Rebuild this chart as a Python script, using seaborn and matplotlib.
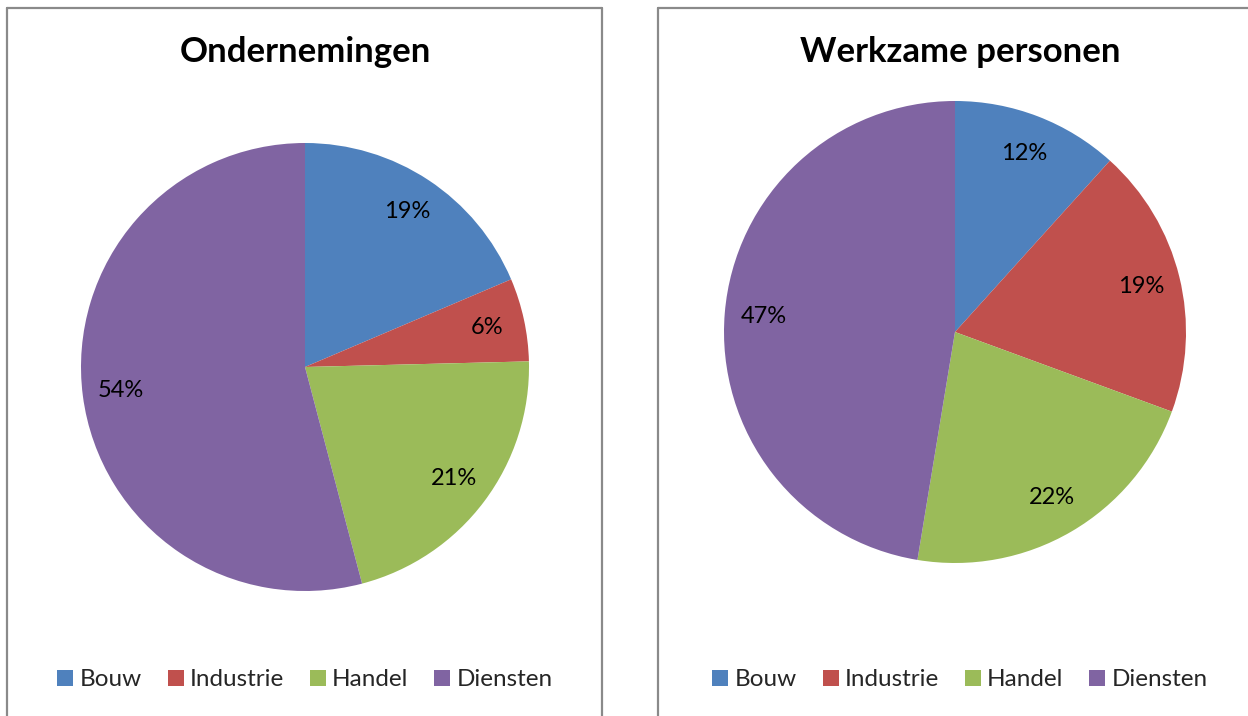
import matplotlib
matplotlib.use("Agg")
import matplotlib.pyplot as plt
import seaborn as sns
from matplotlib.patches import Patch
from matplotlib.lines import Line2D

categories = ["Bouw", "Industrie", "Handel", "Diensten"]
ondernemingen = [18.6, 6.0, 21.3, 54.1]
werkzame = [11.7, 18.9, 22.0, 47.4]
titles = ["Ondernemingen", "Werkzame personen"]
colors = ["#4F81BD", "#C0504D", "#9BBB59", "#8064A2"]

sns.set_theme(style="white")
plt.rcParams['font.family'] = ['Lato', 'DejaVu Sans']

W, H = 1248, 716
fig = plt.figure(figsize=(W / 100, H / 100), dpi=100)
fig.patch.set_facecolor("white")

def add_pie(values, title, cx, cy, r, tx):
    ax = fig.add_axes([(cx - r) / W, (H - cy - r) / H, 2 * r / W, 2 * r / H])
    ax.pie(values, colors=sns.color_palette(colors), startangle=90, counterclock=False,
           autopct='%.0f%%', pctdistance=0.83,
           wedgeprops=dict(linewidth=0),
           textprops=dict(fontsize=17, color="black"))
    ax.set_xlim(-1, 1)
    ax.set_ylim(-1, 1)
    ax.set_aspect("equal")
    ax.axis("off")
    fig.text(tx / W, 1 - 52 / H, title, ha="center", va="center",
             fontsize=25, fontweight="bold", color="black")
    handles = [Patch(facecolor=c, edgecolor="none") for c in colors]
    fig.legend(handles, categories, loc="center", bbox_to_anchor=(tx / W, 1 - 680 / H),
               ncol=4, frameon=False, fontsize=17.5, handlelength=0.66, handleheight=0.66,
               handletextpad=0.25, columnspacing=1.07)

add_pie(ondernemingen, titles[0], 305, 367, 224, 305)
add_pie(werkzame, titles[1], 955, 332, 231, 960)

gray = "#8a8a8a"
def fline(xs, ys):
    fig.add_artist(Line2D([x / W for x in xs], [1 - y / H for y in ys],
                          color=gray, linewidth=1.6, transform=fig.transFigure))

fline([7, 7], [8, 716])
fline([7, 602], [8, 8])
fline([602, 602], [8, 716])
fline([658, 658], [8, 716])
fline([658, 1248], [8, 8])

fig.savefig("out.png", dpi=100)
